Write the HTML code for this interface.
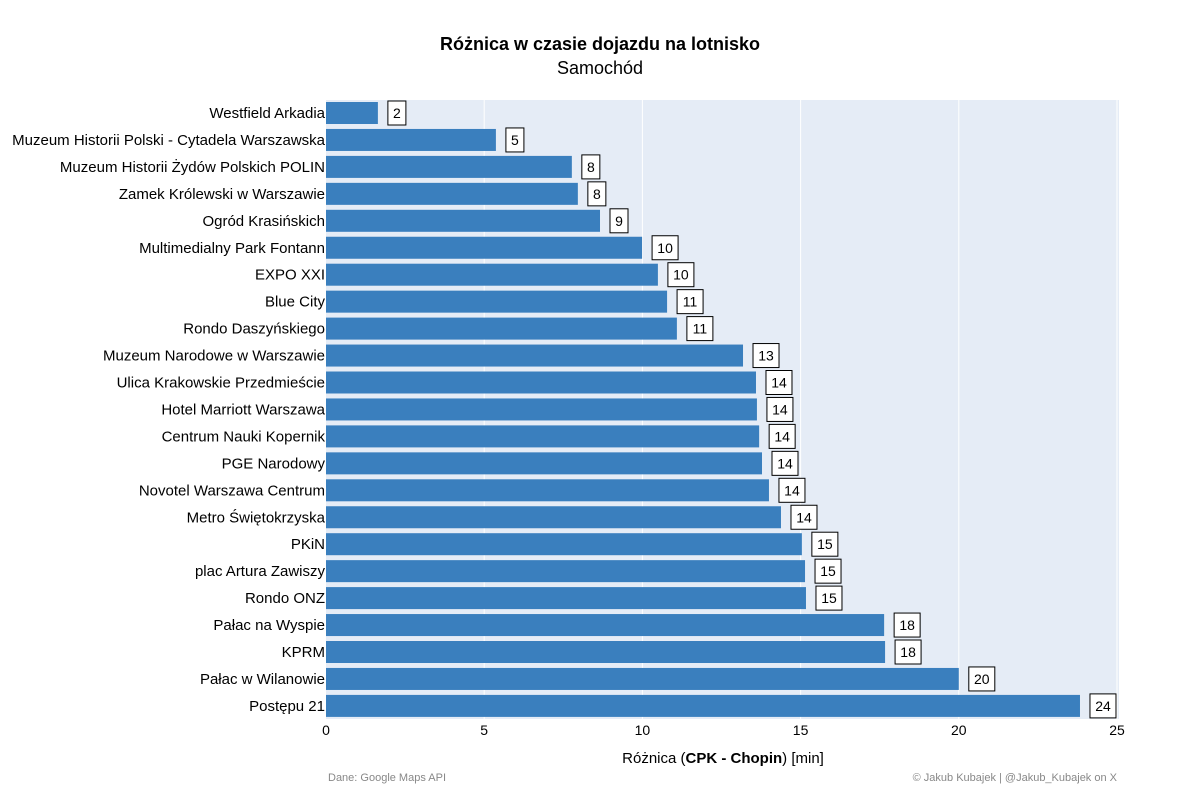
<!DOCTYPE html>
<html><head><meta charset="utf-8"><style>
body{margin:0;background:#fff;font-family:"Liberation Sans",Arial,sans-serif;}
</style></head><body>
<svg width="1200" height="800" xmlns="http://www.w3.org/2000/svg" id="chart" font-family="Liberation Sans, Arial, sans-serif">
<rect width="1200" height="800" fill="#fff"/>
<text x="600" y="50" text-anchor="middle" font-size="18" font-weight="bold">Różnica w czasie dojazdu na lotnisko</text>
<text x="600" y="74" text-anchor="middle" font-size="18">Samochód</text>
<rect x="326" y="100" width="793" height="619" fill="#e5ecf6"/>
<g id="grid"></g><g id="bars"></g><g id="ylabels"></g><g id="xticks"></g>
<text x="723" y="763" text-anchor="middle" font-size="15">Różnica (<tspan font-weight="bold">CPK - Chopin</tspan>) [min]</text>
<text x="328" y="781" font-size="11" fill="#888">Dane: Google Maps API</text>
<text x="1117" y="781" text-anchor="end" font-size="11" fill="#888">© Jakub Kubajek | @Jakub_Kubajek on X</text>
</svg>
<script>
const categories=["Westfield Arkadia","Muzeum Historii Polski - Cytadela Warszawska","Muzeum Historii Żydów Polskich POLIN","Zamek Królewski w Warszawie","Ogród Krasińskich","Multimedialny Park Fontann","EXPO XXI","Blue City","Rondo Daszyńskiego","Muzeum Narodowe w Warszawie","Ulica Krakowskie Przedmieście","Hotel Marriott Warszawa","Centrum Nauki Kopernik","PGE Narodowy","Novotel Warszawa Centrum","Metro Świętokrzyska","PKiN","plac Artura Zawiszy","Rondo ONZ","Pałac na Wyspie","KPRM","Pałac w Wilanowie","Postępu 21"];
const values=[1.64,5.37,7.77,7.96,8.66,9.99,10.49,10.78,11.09,13.18,13.59,13.62,13.69,13.78,14.0,14.38,15.04,15.14,15.17,17.64,17.67,20.0,23.83];
const xTicks=[0,5,10,15,20,25];
const NS="http://www.w3.org/2000/svg";
const x0=326,x1=1117,xMax=25,yTop=100,step=26.95;
const xs=v=>x0+v/xMax*(x1-x0);
const yc=i=>113+i*step;
function mk(t,a,p,txt){const e=document.createElementNS(NS,t);for(const k in a)e.setAttribute(k,a[k]);if(txt!==undefined)e.textContent=txt;document.getElementById(p).appendChild(e);return e;}
xTicks.forEach(t=>{
  if(t>0){const g=mk('line',{x1:xs(t),x2:xs(t),y1:100,y2:719,stroke:'#fff','stroke-width':1},'grid');
  
  }
  const l=mk('text',{x:xs(t),y:735,'text-anchor':'middle','font-size':14},'xticks',String(t));
  
  
});
categories.forEach((c,i)=>{
  const v=values[i],y=yc(i);
  const b=mk('rect',{x:x0,y:y-11,width:xs(v)-x0,height:22,fill:'#3a7fbe'},'bars');
  
  
  const lab=String(Math.round(v));
  const w=lab.length>1?26:18;
  const bx=mk('rect',{x:xs(v)+10,y:y-12,width:w,height:24,fill:'#fff',stroke:'#000','stroke-width':1},'bars');
  
  
  const t=mk('text',{x:xs(v)+10+w/2,y:y+5,'text-anchor':'middle','font-size':14},'bars',lab);
  
  
  const yl=mk('text',{x:325,y:y+5,'text-anchor':'end','font-size':15},'ylabels',c);
  
  
});
</script>
</body></html>
